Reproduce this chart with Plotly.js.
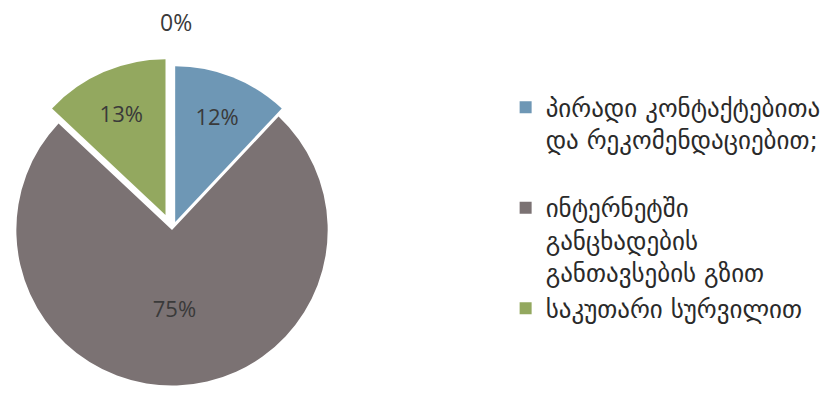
<!DOCTYPE html>
<html>
<head>
<meta charset="utf-8">
<script src="https://cdn.plot.ly/plotly-3.0.1.min.js"></script>
<style>html,body{margin:0;padding:0;background:#fff;overflow:hidden}</style>
</head>
<body>
<div id="chart" style="width:833px;height:402px"></div>
<script>
// Data
const categories = [
  "პირადი კონტაქტებითა<br>და რეკომენდაციებით;<br> ",
  "ინტერნეტში<br>განცხადების<br>განთავსების გზით",
  "საკუთარი სურვილით",
  ""
];
const values = [12, 75, 13, 0];
const colors = ["#6e97b5", "#7b7273", "#93a85f", "#c0504d"];
const pulls = [0.055, 0, 0.105, 0];

const n = 3; // slices drawn in the pie (the zero-share category is labelled separately)
const total = values.reduce((a, b) => a + b, 0);

const trace = {
  type: "pie",
  labels: categories.slice(0, n),
  values: values.slice(0, n),
  sort: false,
  direction: "clockwise",
  rotation: 0,
  pull: pulls.slice(0, n),
  marker: {colors: colors.slice(0, n), line: {width: 0}},
  textinfo: "percent",
  textposition: "inside",
  insidetextorientation: "horizontal",
  textfont: {family: "Open Sans, Liberation Sans, sans-serif", size: 22, color: "#3a3a3a"},
  domain: {x: [0, 0.413], y: [0, 0.856]},
  hoverinfo: "label+percent"
};

const zeroLabel = Math.round(values[3] / total * 100) + "%";

const layout = {
  width: 833,
  height: 402,
  margin: {l: 0, r: 0, t: 0, b: 0},
  paper_bgcolor: "#ffffff",
  showlegend: true,
  legend: {
    x: 0.607, y: 0.79, xanchor: "left", yanchor: "top",
    valign: "top",
    font: {family: "DejaVu Sans, sans-serif", size: 25, color: "#2a2a2a"},
    itemwidth: 30
  },
  annotations: [{
    text: zeroLabel,
    x: 176 / 833, y: 1 - 22 / 402, xref: "paper", yref: "paper",
    xanchor: "center", yanchor: "middle",
    showarrow: false,
    font: {family: "Open Sans, Liberation Sans, sans-serif", size: 23, color: "#3a3a3a"}
  }]
};

Plotly.newPlot("chart", [trace], layout, {displayModeBar: false, staticPlot: true});
</script>
</body>
</html>
